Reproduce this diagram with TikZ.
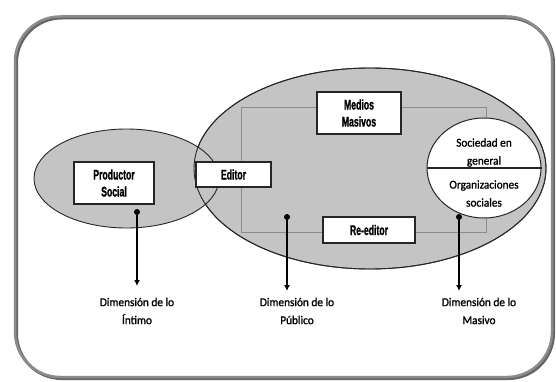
\documentclass[tikz,border=0pt]{standalone}
\usepackage{fontspec}
\newfontfamily\cajafont[FakeStretch=0.62, FakeBold=1.2]{Liberation Sans}
\newfontfamily\dimfont[FakeBold=1.2, FakeStretch=0.94]{Carlito}
\usetikzlibrary{shapes.geometric, arrows.meta, positioning}

\tikzset{
  zona/.style={ellipse, fill=black!23, draw=black!85, line width=0.9pt, inner sep=0pt},
  caja/.style={rectangle, draw=black!85, line width=1.2pt, fill=white, inner sep=0pt,
    align=center, font=\cajafont\bfseries\fontsize{14}{17}\selectfont},
  masa/.style={ellipse, draw=black!85, line width=1pt, fill=white, inner sep=0pt},
  dimtxt/.style={align=center, inner sep=0pt, font=\dimfont\fontsize{12}{18}\selectfont},
  punto/.style={circle, fill=black, inner sep=0pt, minimum size=6pt},
  flecha/.style={-{Latex[length=6pt, width=6pt]}, line width=1.4pt},
}

\begin{document}
\begin{tikzpicture}[x=1pt, y=-1pt]
    \useasboundingbox (0,0) rectangle (556,382);
    % marco
    \draw[black!60, line width=3pt, rounded corners=45pt] (16.5,18) rectangle (553.5,378.5);
    \draw[black!45, line width=2.5pt, rounded corners=45pt] (15,16.5) rectangle (552,377);

    % zonas
    \node[zona, minimum width=352pt, minimum height=201pt] (publico) at (370,168.5) {};
    \node[zona, minimum width=185pt, minimum height=99pt] (intimo) at (126.5,178.5) {};
    \draw[black!85, line width=0.9pt] (publico.center) ellipse [x radius=176pt, y radius=100.5pt];
    \draw[black!45, line width=0.6pt] (241,107) rectangle (486,232);

    % cajas
    \node[caja, minimum width=80pt, minimum height=42pt] (productor) at (114,183) {Productor\\Social};
    \node[caja, minimum width=75pt, minimum height=25pt] (editor) at (233.5,174.5) {Editor};
    \node[caja, minimum width=84pt, minimum height=42pt] (medios) at (359,113) {Medios\\Masivos};
    \node[caja, minimum width=92pt, minimum height=26pt] (reeditor) at (369,230) {Re-editor};

    % sociedad
    \node[masa, minimum width=114pt, minimum height=100pt] (masivo) at (484,168) {};
    \draw[black!85, line width=1pt] (masivo.west) -- (masivo.east);
    \node[dimtxt] (sociedad) at (484,152.5) {Sociedad en\\general};
    \node[dimtxt] (organiz) at (484,193.5) {Organizaciones\\sociales};

    % dimensiones
    \node[punto] (dotI) at (137,212) {};
    \node[punto] (dotP) at (287,217) {};
    \node[punto] (dotM) at (459,217) {};
    \coordinate (tipI) at (137,286);
    \coordinate (tipP) at (287,291);
    \coordinate (tipM) at (459,291);
    \draw[flecha] (dotI) -- (tipI);
    \draw[flecha] (dotP) -- (tipP);
    \draw[flecha] (dotM) -- (tipM);
    \node[dimtxt] (lblI) at (137,311) {Dimensión de lo\\Íntimo};
    \node[dimtxt] (lblP) at (297,311) {Dimensión de lo\\Público};
    \node[dimtxt] (lblM) at (479,311) {Dimensión de lo\\Masivo};
\end{tikzpicture}
\end{document}
